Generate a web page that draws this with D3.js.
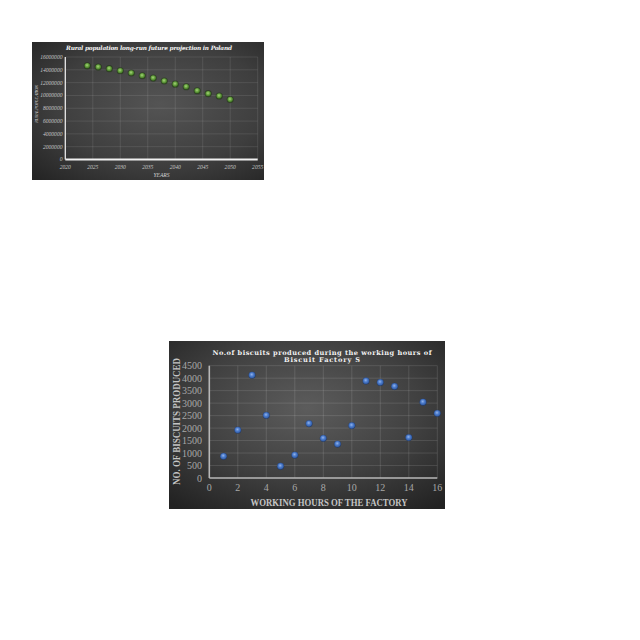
<!DOCTYPE html>
<html>
<head>
<meta charset="utf-8">
<script src="https://cdn.jsdelivr.net/npm/d3@7"></script>
<style>
  body { margin: 0; background: #fff; }
</style>
</head>
<body>
<div id="chart"></div>
<script>
// Top chart: rural population projection
const popYears = [2024, 2026, 2028, 2030, 2032, 2034, 2036, 2038, 2040, 2042, 2044, 2046, 2048, 2050];
const ruralPopulation = [14630000, 14430000, 14170000, 13850000, 13500000, 13070000, 12710000, 12250000, 11760000, 11360000, 10730000, 10270000, 9910000, 9350000];
const popYearTicks = [2020, 2025, 2030, 2035, 2040, 2045, 2050, 2055];
const popValueTicks = [0, 2000000, 4000000, 6000000, 8000000, 10000000, 12000000, 14000000, 16000000];

// Bottom chart: biscuits per working hour
const workingHours = [1, 2, 3, 4, 5, 6, 7, 8, 9, 10, 11, 12, 13, 14, 15, 16];
const biscuitsProduced = [870, 1920, 4120, 2510, 470, 920, 2180, 1590, 1360, 2100, 3890, 3830, 3670, 1620, 3040, 2590];
const hourTicks = [0, 2, 4, 6, 8, 10, 12, 14, 16];
const biscuitTicks = [0, 500, 1000, 1500, 2000, 2500, 3000, 3500, 4000, 4500];

const svg = d3.select("#chart")
    .append("svg")
    .attr("width", 640)
    .attr("height", 640);

const defs = svg.append("defs");

// Card backgrounds and marker fills
function radial(id, stops, cx, cy, r) {
    const g = defs.append("radialGradient")
        .attr("id", id)
        .attr("cx", cx).attr("cy", cy).attr("r", r);
    stops.forEach(s => g.append("stop").attr("offset", s[0]).attr("stop-color", s[1]));
}
radial("bgTop", [["0%", "#545454"], ["60%", "#3e3e3e"], ["100%", "#252525"]], "55%", "45%", "75%");
radial("bgBottom", [["0%", "#5c5c5c"], ["55%", "#404040"], ["100%", "#222"]], "50%", "40%", "75%");
radial("dotGreen", [["0%", "#a6d47c"], ["45%", "#6ea845"], ["80%", "#4a7f2c"], ["100%", "#2e5319"]], "45%", "40%", "60%");
radial("dotBlue", [["0%", "#94b4ea"], ["45%", "#4c7ccc"], ["85%", "#3560aa"], ["100%", "#26467e"]], "45%", "40%", "60%");

drawPopulationChart();
drawBiscuitChart();

// Rural population chart (small, top-left)
function drawPopulationChart() {
    const card = { x: 32, y: 42, w: 232, h: 138 };
    const plot = { left: 65.3, right: 257.7, top: 57, bottom: 159.5 };
    const g = svg.append("g");

    g.append("rect")
        .attr("x", card.x).attr("y", card.y)
        .attr("width", card.w).attr("height", card.h)
        .attr("fill", "url(#bgTop)");

    const x = d3.scaleLinear().domain([2020, 2055]).range([plot.left, plot.right]);
    const y = d3.scaleLinear().domain([0, 16000000]).range([plot.bottom, plot.top]);

    // Gridlines
    g.selectAll(".hgrid").data(popValueTicks.slice(1)).enter().append("line")
        .attr("x1", plot.left).attr("x2", plot.right)
        .attr("y1", d => y(d)).attr("y2", d => y(d))
        .attr("stroke", "rgba(255,255,255,0.14)").attr("stroke-width", 0.7);
    g.selectAll(".vgrid").data(popYearTicks.slice(1)).enter().append("line")
        .attr("x1", d => x(d)).attr("x2", d => x(d))
        .attr("y1", plot.top).attr("y2", plot.bottom)
        .attr("stroke", "rgba(255,255,255,0.14)").attr("stroke-width", 0.7);

    // Axis lines
    g.append("line")
        .attr("x1", plot.left).attr("x2", plot.left)
        .attr("y1", plot.top).attr("y2", plot.bottom)
        .attr("stroke", "#e8e8e8").attr("stroke-width", 1.3);
    g.append("line")
        .attr("x1", plot.left).attr("x2", plot.right)
        .attr("y1", plot.bottom).attr("y2", plot.bottom)
        .attr("stroke", "#f0f0f0").attr("stroke-width", 1.8);

    // Tick labels
    g.selectAll(".ylab").data(popValueTicks).enter().append("text")
        .attr("x", 62.5).attr("y", d => y(d))
        .attr("dy", "0.35em")
        .attr("text-anchor", "end")
        .attr("font-family", "Liberation Serif").attr("font-style", "italic")
        .attr("font-size", "5.6px").attr("fill", "#c8c8c8")
        .text(d => d);
    g.selectAll(".xlab").data(popYearTicks).enter().append("text")
        .attr("x", d => x(d)).attr("y", 168.5)
        .attr("text-anchor", "middle")
        .attr("font-family", "Liberation Serif").attr("font-style", "italic")
        .attr("font-size", "5.6px").attr("fill", "#c8c8c8")
        .text(d => d);

    // Titles
    g.append("text")
        .attr("x", 149).attr("y", 49.5)
        .attr("text-anchor", "middle")
        .attr("font-family", "DejaVu Serif").attr("font-weight", "bold").attr("font-style", "italic")
        .attr("font-size", "5.8px").attr("fill", "#f4f4f4")
        .attr("textLength", 166).attr("lengthAdjust", "spacing")
        .text("Rural population long-run future projection in Poland");
    g.append("text")
        .attr("x", 161.5).attr("y", 176.5)
        .attr("text-anchor", "middle")
        .attr("font-family", "Liberation Serif").attr("font-style", "italic")
        .attr("font-size", "5.6px").attr("fill", "#d0d0d0")
        .text("YEARS");
    g.append("text")
        .attr("transform", "translate(37.5,104) rotate(-90)")
        .attr("text-anchor", "middle")
        .attr("font-family", "Liberation Serif").attr("font-style", "italic")
        .attr("font-size", "5px").attr("fill", "#d0d0d0")
        .attr("textLength", 38).attr("lengthAdjust", "spacing")
        .text("RURAL POPULATION");

    // Markers with a dark halo
    g.selectAll(".pop-halo").data(popYears).enter().append("circle")
        .attr("cx", d => x(d))
        .attr("cy", (d, i) => y(ruralPopulation[i]))
        .attr("r", 3.6)
        .attr("fill", "rgba(30,55,15,0.55)");
    g.selectAll(".pop-dot").data(popYears).enter().append("circle")
        .attr("cx", d => x(d))
        .attr("cy", (d, i) => y(ruralPopulation[i]))
        .attr("r", 2.8)
        .attr("fill", "url(#dotGreen)");
}

// Biscuit factory chart (bottom)
function drawBiscuitChart() {
    const card = { x: 169, y: 341, w: 276, h: 168 };
    const plot = { left: 209.3, right: 437.3, top: 365.7, bottom: 478 };
    const g = svg.append("g");

    g.append("rect")
        .attr("x", card.x).attr("y", card.y)
        .attr("width", card.w).attr("height", card.h)
        .attr("fill", "url(#bgBottom)");

    const x = d3.scaleLinear().domain([0, 16]).range([plot.left, plot.right]);
    const y = d3.scaleLinear().domain([0, 4500]).range([plot.bottom, plot.top]);

    // Gridlines
    g.selectAll(".hgrid").data(biscuitTicks.slice(1)).enter().append("line")
        .attr("x1", plot.left).attr("x2", plot.right)
        .attr("y1", d => y(d)).attr("y2", d => y(d))
        .attr("stroke", "rgba(255,255,255,0.15)").attr("stroke-width", 0.8);
    g.selectAll(".vgrid").data(hourTicks.slice(1)).enter().append("line")
        .attr("x1", d => x(d)).attr("x2", d => x(d))
        .attr("y1", plot.top).attr("y2", plot.bottom)
        .attr("stroke", "rgba(255,255,255,0.15)").attr("stroke-width", 0.8);

    // Axis lines
    g.append("line")
        .attr("x1", plot.left).attr("x2", plot.left)
        .attr("y1", plot.top).attr("y2", plot.bottom)
        .attr("stroke", "#b8b8b8").attr("stroke-width", 1.6);
    g.append("line")
        .attr("x1", plot.left).attr("x2", plot.right)
        .attr("y1", plot.bottom).attr("y2", plot.bottom)
        .attr("stroke", "#b8b8b8").attr("stroke-width", 1.6);

    // Tick labels
    g.selectAll(".ylab").data(biscuitTicks).enter().append("text")
        .attr("x", 202).attr("y", d => y(d))
        .attr("dy", "0.35em")
        .attr("text-anchor", "end")
        .attr("font-family", "Liberation Serif")
        .attr("font-size", "10px").attr("fill", "#a8a8a8")
        .text(d => d);
    g.selectAll(".xlab").data(hourTicks).enter().append("text")
        .attr("x", d => x(d)).attr("y", 491)
        .attr("text-anchor", "middle")
        .attr("font-family", "Liberation Serif")
        .attr("font-size", "10px").attr("fill", "#a8a8a8")
        .text(d => d);

    // Titles
    const titleLines = ["No.of biscuits produced during the working hours of", "Biscuit Factory S"];
    const titleWidths = [219, 76];
    g.selectAll(".title").data(titleLines).enter().append("text")
        .attr("x", 322).attr("y", (d, i) => 354.5 + i * 7)
        .attr("text-anchor", "middle")
        .attr("font-family", "DejaVu Serif").attr("font-weight", "bold")
        .attr("font-size", "6.6px").attr("fill", "#f2f2f2")
        .attr("textLength", (d, i) => titleWidths[i]).attr("lengthAdjust", "spacing")
        .text(d => d);
    g.append("text")
        .attr("x", 329).attr("y", 505.5)
        .attr("text-anchor", "middle")
        .attr("font-family", "Liberation Serif").attr("font-weight", "bold")
        .attr("font-size", "9.5px").attr("fill", "#c4c4c4")
        .attr("textLength", 157).attr("lengthAdjust", "spacingAndGlyphs")
        .text("WORKING HOURS OF THE FACTORY");
    g.append("text")
        .attr("transform", "translate(179.5,421.5) rotate(-90)")
        .attr("text-anchor", "middle")
        .attr("font-family", "Liberation Serif").attr("font-weight", "bold")
        .attr("font-size", "9.5px").attr("fill", "#c4c4c4")
        .attr("textLength", 127).attr("lengthAdjust", "spacingAndGlyphs")
        .text("NO. OF BISCUITS PRODUCED");

    // Markers
    g.selectAll(".biscuit-dot").data(workingHours).enter().append("circle")
        .attr("cx", d => x(d))
        .attr("cy", (d, i) => y(biscuitsProduced[i]))
        .attr("r", 3.4)
        .attr("fill", "url(#dotBlue)")
        .attr("stroke", "rgba(20,40,80,0.5)").attr("stroke-width", 0.5);
}
</script>
</body>
</html>
